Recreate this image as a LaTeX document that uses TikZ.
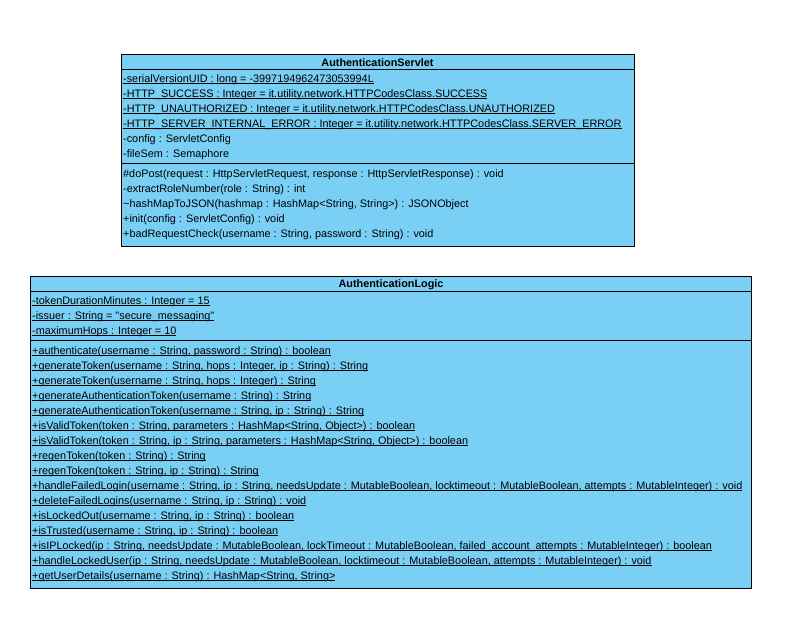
\documentclass[tikz,border=0pt]{standalone}
\usepackage{fontspec}
\setmainfont{Liberation Sans}[Ligatures=TeXOff]
\definecolor{umlfill}{RGB}{122,207,245}
\newcommand\ulx[1]{\setbox0\hbox{#1}\rlap{\rule[-2pt]{\wd0}{0.8pt}}\box0}
\tikzset{
  classbox/.style={draw=black, line width=1pt, fill=umlfill},
  divider/.style={draw=black, line width=1pt},
  member/.style={anchor=base west, inner sep=0pt, font=\fontsize{10.85}{13}\selectfont},
  title/.style={anchor=base, inner sep=0pt, font=\fontsize{10.85}{13}\selectfont\bfseries},
}
\begin{document}
\begin{tikzpicture}[x=1pt,y=-1pt]
\useasboundingbox (0,0) rectangle (802,624);
% ---------- AuthenticationServlet ----------
\draw[classbox] (121,54.3) rectangle (634,246);
\coordinate (s1l) at (121,69.5); \coordinate (s1r) at (634,69.5);
\coordinate (s2l) at (121,163.5); \coordinate (s2r) at (634,163.5);
\draw[divider] (s1l) -- (s1r);
\draw[divider] (s2l) -- (s2r);
\node[title] (st) at (377.5,66) {AuthenticationServlet};
\node[member] (sa1) at (123,82) {\ulx{-serialVersionUID : long = -3997194962473053994L}};
\node[member] (sa2) at (123,97) {\ulx{-HTTP\_SUCCESS : Integer = it.utility.network.HTTPCodesClass.SUCCESS}};
\node[member] (sa3) at (123,112) {\ulx{-HTTP\_UNAUTHORIZED : Integer = it.utility.network.HTTPCodesClass.UNAUTHORIZED}};
\node[member] (sa4) at (123,127) {\ulx{-HTTP\_SERVER\_INTERNAL\_ERROR : Integer = it.utility.network.HTTPCodesClass.SERVER\_ERROR}};
\node[member] (sa5) at (123,142) {-config : ServletConfig};
\node[member] (sa6) at (123,157) {-fileSem : Semaphore};
\node[member] (sm1) at (123,177) {\#doPost(request : HttpServletRequest, response : HttpServletResponse) : void};
\node[member] (sm2) at (123,192) {-extractRoleNumber(role : String) : int};
\node[member] (sm3) at (123,207) {\textasciitilde hashMapToJSON(hashmap : HashMap<String, String>) : JSONObject};
\node[member] (sm4) at (123,222) {+init(config : ServletConfig) : void};
\node[member] (sm5) at (123,237) {+badRequestCheck(username : String, password : String) : void};
% ---------- AuthenticationLogic ----------
\draw[classbox] (30.3,276) rectangle (751.7,588);
\coordinate (l1l) at (30.3,291.3); \coordinate (l1r) at (751.7,291.3);
\coordinate (l2l) at (30.3,340.7); \coordinate (l2r) at (751.7,340.7);
\draw[divider] (l1l) -- (l1r);
\draw[divider] (l2l) -- (l2r);
\node[title] (lt) at (391,287.5) {AuthenticationLogic};
\node[member] (la1) at (32,304) {\ulx{-tokenDurationMinutes : Integer = 15}};
\node[member] (la2) at (32,319) {\ulx{-issuer : String = "secure\_messaging"}};
\node[member] (la3) at (32,334) {\ulx{-maximumHops : Integer = 10}};
\node[member] (lm1) at (32,354) {\ulx{+authenticate(username : String, password : String) : boolean}};
\node[member] (lm2) at (32,369) {\ulx{+generateToken(username : String, hops : Integer, ip : String) : String}};
\node[member] (lm3) at (32,384) {\ulx{+generateToken(username : String, hops : Integer) : String}};
\node[member] (lm4) at (32,399) {\ulx{+generateAuthenticationToken(username : String) : String}};
\node[member] (lm5) at (32,414) {\ulx{+generateAuthenticationToken(username : String, ip : String) : String}};
\node[member] (lm6) at (32,429) {\ulx{+isValidToken(token : String, parameters : HashMap<String, Object>) : boolean}};
\node[member] (lm7) at (32,444) {\ulx{+isValidToken(token : String, ip : String, parameters : HashMap<String, Object>) : boolean}};
\node[member] (lm8) at (32,459) {\ulx{+regenToken(token : String) : String}};
\node[member] (lm9) at (32,474) {\ulx{+regenToken(token : String, ip : String) : String}};
\node[member] (lm10) at (32,489) {\ulx{+handleFailedLogin(username : String, ip : String, needsUpdate : MutableBoolean, locktimeout : MutableBoolean, attempts : MutableInteger) : void}};
\node[member] (lm11) at (32,504) {\ulx{+deleteFailedLogins(username : String, ip : String) : void}};
\node[member] (lm12) at (32,519) {\ulx{+isLockedOut(username : String, ip : String) : boolean}};
\node[member] (lm13) at (32,534) {\ulx{+isTrusted(username : String, ip : String) : boolean}};
\node[member] (lm14) at (32,549) {\ulx{+isIPLocked(ip : String, needsUpdate : MutableBoolean, lockTimeout : MutableBoolean, failed\_account\_attempts : MutableInteger) : boolean}};
\node[member] (lm15) at (32,564) {\ulx{+handleLockedUser(ip : String, needsUpdate : MutableBoolean, locktimeout : MutableBoolean, attempts : MutableInteger) : void}};
\node[member] (lm16) at (32,579) {\ulx{+getUserDetails(username : String) : HashMap<String, String>}};
\end{tikzpicture}
\end{document}
